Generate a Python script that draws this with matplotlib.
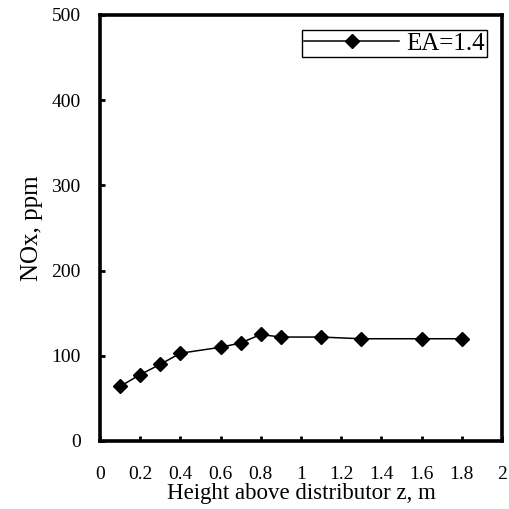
import numpy as np
import matplotlib.pyplot as plt

# NOx vs height, EA = 1.4
z = [0.1, 0.2, 0.3, 0.4, 0.6, 0.7, 0.8, 0.9, 1.1, 1.3, 1.6, 1.8]
nox = [64, 78, 90, 103, 110, 115, 125, 122, 122, 120, 120, 120]

xticks = [0, 0.2, 0.4, 0.6, 0.8, 1, 1.2, 1.4, 1.6, 1.8, 2]
xticklabels = ['0', '0.2', '0.4', '0.6', '0.8', '1', '1.2', '1.4', '1.6', '1.8', '2']
yticks = [0, 100, 200, 300, 400, 500]

plt.rcParams['font.family'] = ['Liberation Serif', 'DejaVu Serif']

fig = plt.figure(figsize=(5.09, 5.09), dpi=100)
ax = fig.add_axes([0.1965, 0.1336, 0.7895, 0.837])

ax.plot(z, nox, color='black', lw=1.1, marker='D', markersize=6.8,
        markerfacecolor='black', markeredgecolor='black', markeredgewidth=1,
        label='EA=1.4')

ax.set_xlim(0, 2)
ax.set_ylim(0, 500)
ax.set_xticks(xticks)
ax.set_xticklabels(xticklabels)
ax.set_yticks(yticks)
ax.tick_params(direction='in', length=3.5, width=2, labelsize=14)
ax.tick_params(axis='x', pad=18)
ax.tick_params(axis='y', pad=14)
for s in ax.spines.values():
    s.set_linewidth(2.6)

ax.set_xlabel('Height above distributor z, m', fontsize=16.5, labelpad=0)
ax.set_ylabel('NOx, ppm', fontsize=18, labelpad=6)

leg = ax.legend(loc='upper right', fontsize=18, fancybox=False, framealpha=1,
                edgecolor='black', handlelength=3.8, borderpad=0.1,
                handletextpad=0.25, borderaxespad=0.6)
leg.get_frame().set_linewidth(1.0)

fig.savefig('out.png', dpi=100)
